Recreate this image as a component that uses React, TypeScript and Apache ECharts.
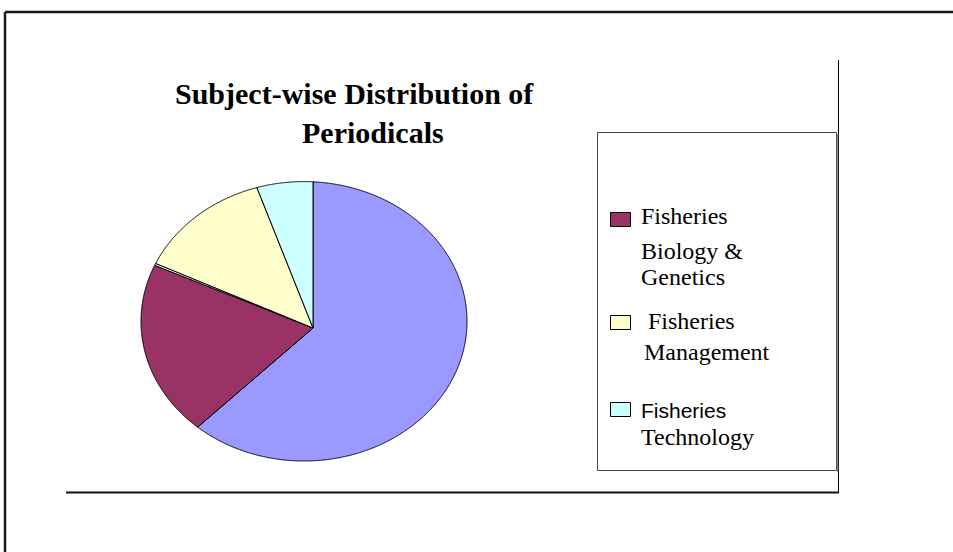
import React, { useEffect, useRef } from "react";
import * as echarts from "echarts";

// ---- data ----
const titleLines = ["Subject-wise Distribution of", "Periodicals"];
const categories = [
  "Other subjects",
  "Fisheries Biology & Genetics",
  "Unlabelled",
  "Fisheries Management",
  "Fisheries Technology",
];
const shares = [63.7, 17.3, 0.2, 12.75, 6.05];
const sliceColors = ["#9999FF", "#993366", "#FFFFFF", "#FFFFCC", "#CCFFFF"];
const legendIndex = [1, 3, 4];
const legendLines = [
  ["Fisheries", "Biology &", "Genetics"],
  ["Fisheries", "Management"],
  ["Fisheries", "Technology"],
];

// ---- geometry of the (slightly elliptical) pie ----
const CX = 304;
const CY = 321.3;
const RX = 163;
const RY = 139.7;
const AX = 313; // apex where slices meet
const AY = 328;

function rim(theta: number): number[] {
  const dx = Math.sin(theta);
  const dy = -Math.cos(theta);
  const ox = (AX - CX) / RX;
  const oy = (AY - CY) / RY;
  const ux = dx / RX;
  const uy = dy / RY;
  const a = ux * ux + uy * uy;
  const b = 2 * (ox * ux + oy * uy);
  const c = ox * ox + oy * oy - 1;
  const t = (-b + Math.sqrt(b * b - 4 * a * c)) / (2 * a);
  return [AX + t * dx, AY + t * dy];
}

const serif = "'Liberation Serif', 'Times New Roman', serif";
const sans = "'Liberation Sans', Arial, sans-serif";

export default function App() {
  const ref = useRef<HTMLDivElement>(null);

  useEffect(() => {
    if (!ref.current) return;
    const chart = echarts.init(ref.current, undefined, { renderer: "svg" });
    const total = shares.reduce((s, v) => s + v, 0);

    const legendLayout = [
      { box: [610, 212], lines: [[641, 216, serif, 24], [641, 251, serif, 24], [641, 277, serif, 24]] },
      { box: [610, 315], lines: [[648, 321, serif, 24], [644, 352, serif, 24]] },
      { box: [610, 402], lines: [[641, 410, sans, 21], [641, 437, serif, 24]] },
    ];

    const graphics: any[] = [
      // outer frame
      { type: "line", shape: { x1: 5, y1: 12, x2: 953, y2: 12 }, style: { stroke: "#1a1a1a", lineWidth: 2.5 } },
      { type: "line", shape: { x1: 5, y1: 12, x2: 5, y2: 552 }, style: { stroke: "#1a1a1a", lineWidth: 2.5 } },
      // inner frame
      { type: "line", shape: { x1: 838.5, y1: 60, x2: 838.5, y2: 493 }, style: { stroke: "#000", lineWidth: 1 } },
      { type: "line", shape: { x1: 66, y1: 492.5, x2: 839, y2: 492.5 }, style: { stroke: "#111", lineWidth: 2 } },
      // legend box
      { type: "rect", shape: { x: 597.5, y: 132.5, width: 239, height: 338 }, style: { fill: "#fff", stroke: "#444", lineWidth: 1 } },
      { type: "line", shape: { x1: 837.5, y1: 134, x2: 837.5, y2: 472 }, style: { stroke: "#888", lineWidth: 1.5 } },
    ];

    legendIndex.forEach((ci, k) => {
      const lay = legendLayout[k];
      graphics.push({
        type: "rect",
        shape: { x: lay.box[0] + 0.5, y: lay.box[1] + 0.5, width: 20, height: 14 },
        style: { fill: sliceColors[ci], stroke: "#000", lineWidth: 1 },
      });
      legendLines[k].forEach((txt, j) => {
        const [x, y, ff, fs] = lay.lines[j] as any;
        graphics.push({
          type: "text",
          x,
          y,
          style: {
            text: txt,
            fill: "#000",
            font: `${fs}px ${ff}`,
            fontFamily: ff,
            fontSize: fs,
            verticalAlign: "middle",
            align: "left",
          },
        });
      });
    });

    const titlePos = [
      [175, 93.5],
      [302, 132.5],
    ];
    titleLines.forEach((t, i) => {
      graphics.push({
        type: "text",
        x: titlePos[i][0],
        y: titlePos[i][1],
        style: {
          text: t,
          fill: "#000",
          fontFamily: serif,
          fontSize: 30,
          fontWeight: "bold",
          verticalAlign: "middle",
          align: "left",
        },
      });
    });

    chart.setOption({
      animation: false,
      backgroundColor: "#fff",
      series: [
        {
          type: "custom",
          coordinateSystem: "none",
          data: shares.map((v, i) => ({ value: v, name: categories[i] })),
          renderItem: (params: any, api: any) => {
            const idx = params.dataIndex;
            let before = 0;
            for (let i = 0; i < idx; i++) before += shares[i];
            const v = api.value(0);
            const t0 = (before / total) * Math.PI * 2;
            const t1 = ((before + v) / total) * Math.PI * 2;
            const n = Math.max(2, Math.ceil((t1 - t0) / 0.004));
            const pts: number[][] = [[AX, AY]];
            for (let s = 0; s <= n; s++) pts.push(rim(t0 + ((t1 - t0) * s) / n));
            return {
              type: "polygon",
              shape: { points: pts },
              style: { fill: sliceColors[idx], stroke: "#000", lineWidth: 1, lineJoin: "round" },
            };
          },
        },
      ],
      graphic: graphics,
    });

    return () => chart.dispose();
  }, []);

  return (
    <div
      ref={ref}
      style={{ position: "fixed", left: 0, top: 0, width: 953, height: 552, background: "#fff" }}
    />
  );
}
